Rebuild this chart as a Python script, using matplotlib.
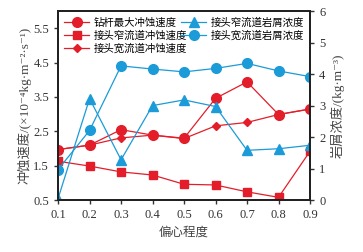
import matplotlib
matplotlib.use('Agg')
import matplotlib.pyplot as plt

plt.rcParams['font.family'] = ['Liberation Serif', 'Noto Sans CJK SC', 'DejaVu Serif']
plt.rcParams['axes.unicode_minus'] = False

# eccentricity
x = [0.1, 0.2, 0.3, 0.4, 0.5, 0.6, 0.7, 0.8, 0.9]

# erosion rates (left axis)
drill_max = [1.97, 2.10, 2.55, 2.39, 2.30, 3.46, 3.94, 2.99, 3.15]
joint_narrow = [1.63, 1.49, 1.32, 1.23, 0.96, 0.94, 0.74, 0.58, 1.92]
joint_wide = [1.97, 2.10, 2.31, 2.39, 2.29, 2.66, 2.76, 2.99, 3.15]

# cuttings concentration (right axis)
conc_narrow = [0.05, 3.22, 1.28, 3.00, 3.18, 2.97, 1.58, 1.63, 1.74]
conc_wide = [0.97, 2.21, 4.26, 4.16, 4.07, 4.18, 4.34, 4.10, 3.92]

red = '#e31e2a'
blue = '#1b9bd7'

fig = plt.figure(figsize=(3.63, 2.52), dpi=100)
ax = fig.add_axes([0.16, 0.206, 0.694, 0.75])
ax2 = ax.twinx()

ax.plot(x, drill_max, color=red, marker='o', ms=7, lw=0.9, label='钻杆最大冲蚀速度')
ax.plot(x, joint_narrow, color=red, marker='s', ms=6, lw=0.9, label='接头窄流道冲蚀速度')
ax.plot(x, joint_wide, color=red, marker='D', ms=4.5, lw=0.9, label='接头宽流道冲蚀速度')

ax2.plot(x, conc_narrow, color=blue, marker='^', ms=7, lw=0.9, label='接头窄流道岩屑浓度')
ax2.plot(x, conc_wide, color=blue, marker='o', ms=7, lw=0.9, label='接头宽流道岩屑浓度')

ax.set_xlim(0.1, 0.9)
ax.set_ylim(0.5, 6.0)
ax2.set_ylim(0, 6)
ax.set_xticks(x)
ax.set_yticks([0.5, 1.5, 2.5, 3.5, 4.5, 5.5])
ax2.set_yticks([0, 1, 2, 3, 4, 5, 6])

for a in (ax, ax2):
    a.tick_params(labelsize=9, length=3, width=1, colors='#333333')
    for s in a.spines.values():
        s.set_linewidth(1.4)
        s.set_color('#222222')

ax.set_xlabel('偏心程度', fontsize=9, color='#444444')
ax.set_ylabel('冲蚀速度/(×10⁻⁴kg·m⁻²·s⁻¹)', fontsize=9.5, color='#444444', labelpad=1)
ax2.set_ylabel('岩屑浓度/(kg·m⁻³)', fontsize=9.5, color='#444444', labelpad=4)

ax.legend(loc='upper left', frameon=False, fontsize=7.5, handlelength=2.4,
          labelspacing=0.25, borderaxespad=0.2, handletextpad=0.4)
ax2.legend(loc='upper right', frameon=False, fontsize=7.5, handlelength=2.4,
           labelspacing=0.25, borderaxespad=0.2, handletextpad=0.4)

fig.savefig('out.png', dpi=100)
